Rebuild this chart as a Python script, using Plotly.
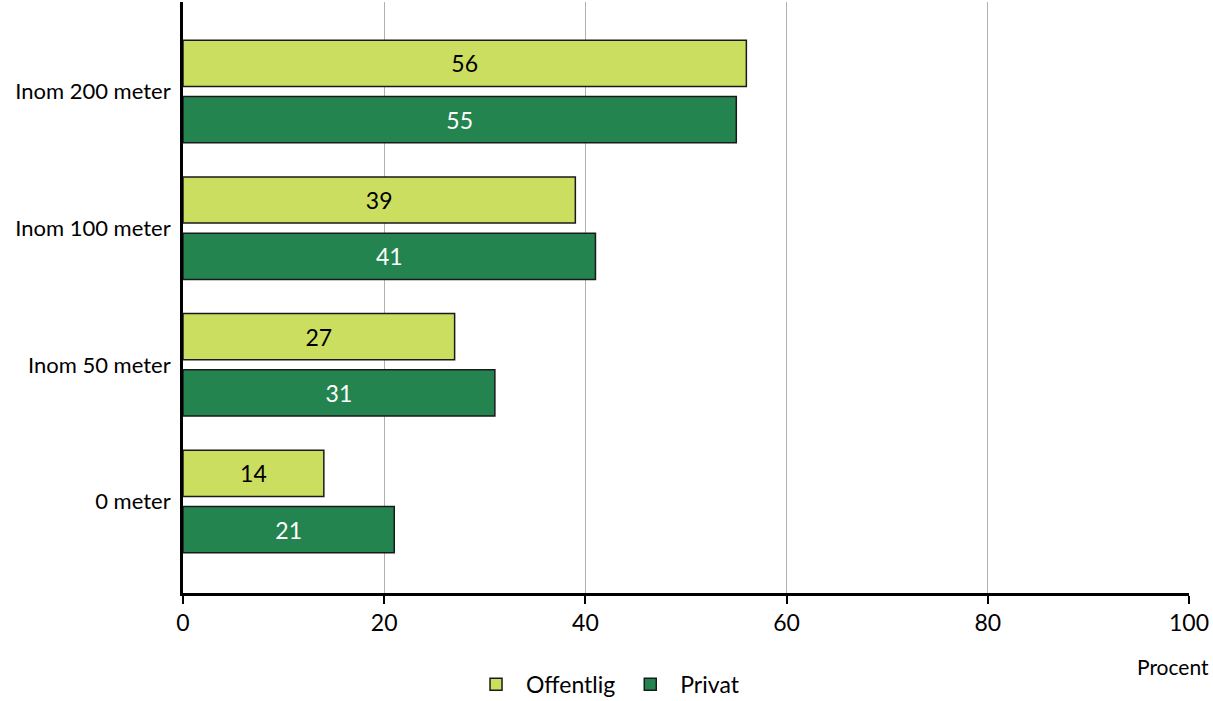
import plotly.graph_objects as go

categories = ["0 meter", "Inom 50 meter", "Inom 100 meter", "Inom 200 meter"]
offentlig = [14, 27, 39, 56]
privat = [21, 31, 41, 55]
x_ticks = [0, 20, 40, 60, 80, 100]

FONT = "Lato"
LIGHT = "#CCDE60"
DARK = "#24844F"

fig = go.Figure()
fig.add_trace(go.Bar(
    y=categories, x=privat, name="Privat", orientation="h",
    marker=dict(color=DARK, line=dict(color="#1a1a1a", width=1.5)),
    text=privat, textposition="inside", insidetextanchor="middle",
    textfont=dict(color="white", size=23, family=FONT), legendrank=2,
))
fig.add_trace(go.Bar(
    y=categories, x=offentlig, name="Offentlig", orientation="h",
    marker=dict(color=LIGHT, line=dict(color="#1a1a1a", width=1.5)),
    text=offentlig, textposition="inside", insidetextanchor="middle",
    textfont=dict(color="black", size=23, family=FONT), legendrank=1,
))

fig.update_layout(
    width=1213, height=701,
    margin=dict(l=183, r=24, t=2, b=108, autoexpand=False),
    paper_bgcolor="white", plot_bgcolor="white",
    barmode="group", bargap=0.176, bargroupgap=0.18,
    font=dict(family=FONT, size=22, color="black"),
    uniformtext=dict(minsize=10, mode="show"),
    xaxis=dict(
        range=[0, 100], tickvals=x_ticks, showgrid=True, gridcolor="#b0b0b0", gridwidth=1,
        showline=True, linecolor="black", linewidth=2.5,
        ticks="outside", ticklen=8, tickwidth=2, tickcolor="black",
        tickfont=dict(size=23, family=FONT), zeroline=False,
    ),
    yaxis=dict(
        categoryorder="array", categoryarray=categories, range=[-0.67, 3.655],
        showline=True, linecolor="black", linewidth=2.5, ticks="",
        tickfont=dict(size=22, family=FONT), showgrid=False, ticksuffix=" ",
    ),
    legend=dict(
        orientation="h", x=0.42, xanchor="center", y=-0.118, yanchor="top",
        font=dict(size=23, family=FONT), itemwidth=50,
    ),
    annotations=[dict(
        text="Procent", xref="paper", yref="paper", x=1.022, y=-0.1,
        xanchor="right", yanchor="top", showarrow=False,
        font=dict(size=21, family=FONT),
    )],
)

fig.write_html("out.html")
